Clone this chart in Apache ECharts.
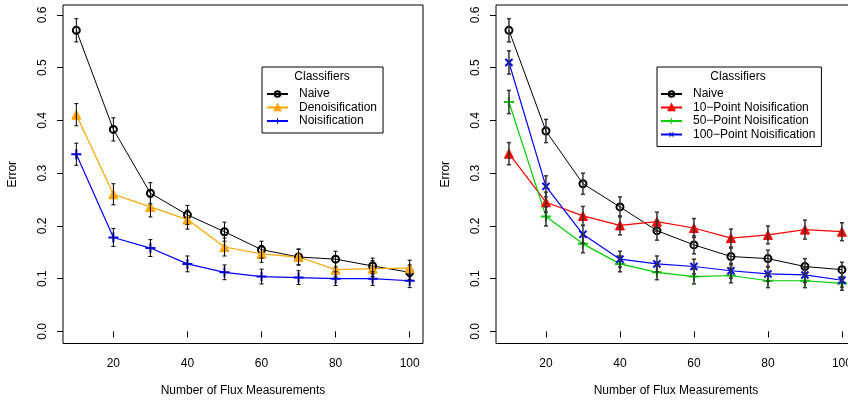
<!DOCTYPE html>
<html>
<head>
<meta charset="utf-8">
<script src="https://cdn.jsdelivr.net/npm/echarts@6/dist/echarts.min.js"></script>
<style>html,body{margin:0;padding:0;background:#fff}#c{width:848px;height:402px}</style>
</head>
<body>
<div id="c"></div>
<script>
// ---- data ----
var xs = [10, 20, 30, 40, 50, 60, 70, 80, 90, 100];
var xTicks = [20, 40, 60, 80, 100];
var yTicks = [0, 0.1, 0.2, 0.3, 0.4, 0.5, 0.6];

// left panel
var leftNaive = [0.571, 0.383, 0.262, 0.221, 0.189, 0.155, 0.141, 0.137, 0.124, 0.112];
var leftNaiveErr = [0.022, 0.022, 0.020, 0.018, 0.018, 0.016, 0.015, 0.015, 0.015, 0.014];
var leftDenoise = [0.411, 0.260, 0.236, 0.212, 0.160, 0.147, 0.141, 0.117, 0.119, 0.120];
var leftDenoiseErr = [0.021, 0.020, 0.019, 0.018, 0.017, 0.016, 0.015, 0.014, 0.015, 0.015];
var leftNoise = [0.336, 0.178, 0.158, 0.128, 0.112, 0.104, 0.102, 0.100, 0.100, 0.096];
var leftNoiseErr = [0.021, 0.017, 0.016, 0.015, 0.014, 0.014, 0.013, 0.013, 0.013, 0.013];

// right panel
var rightNaive = [0.571, 0.380, 0.280, 0.236, 0.191, 0.164, 0.142, 0.138, 0.123, 0.117];
var rightNaiveErr = [0.022, 0.022, 0.020, 0.019, 0.018, 0.017, 0.016, 0.016, 0.015, 0.014];
var right10 = [0.337, 0.245, 0.219, 0.201, 0.208, 0.196, 0.177, 0.183, 0.193, 0.189];
var right10Err = [0.021, 0.019, 0.018, 0.018, 0.018, 0.018, 0.017, 0.017, 0.018, 0.017];
var right50 = [0.435, 0.218, 0.166, 0.128, 0.112, 0.104, 0.106, 0.096, 0.096, 0.091];
var right50Err = [0.022, 0.018, 0.017, 0.015, 0.014, 0.014, 0.014, 0.013, 0.013, 0.013];
var right100 = [0.510, 0.275, 0.184, 0.137, 0.128, 0.123, 0.115, 0.109, 0.107, 0.097];
var right100Err = [0.022, 0.020, 0.017, 0.015, 0.015, 0.014, 0.014, 0.014, 0.014, 0.013];

var leftLegend = ['Naive', 'Denoisification', 'Noisification'];
var rightLegend = ['Naive ', '10\u2212Point Noisification', '50\u2212Point Noisification', '100\u2212Point Noisification'];
var legendTitle = 'Classifiers';
var xName = 'Number of Flux Measurements';
var yName = 'Error';

// ---- build ----
var FONT = 'Liberation Sans, Arial, Helvetica, sans-serif';
var PLUS = 'path://M4,0h2v4h4v2h-4v4h-2v-4h-4v-2h4z';

function pts(vals) { return xs.map(function (x, i) { return [x, vals[i]]; }); }
function errPts(vals, errs) { return xs.map(function (x, i) { return [x, vals[i], errs[i]]; }); }

function lineSeries(name, vals, idx, color, symbol, size, opts) {
  opts = opts || {};
  return {
    type: 'line', name: name, xAxisIndex: idx, yAxisIndex: idx,
    data: pts(vals), symbol: symbol, symbolSize: size,
    symbolRotate: opts.rotate || 0,
    showAllSymbol: true, animation: false, z: 3,
    lineStyle: { color: color, width: opts.lw || 1.2 },
    itemStyle: {
      color: opts.fill || color,
      borderColor: color,
      borderWidth: opts.bw != null ? opts.bw : 0
    },
    emphasis: { disabled: true }
  };
}

function errSeries(vals, errs, idx, color, width) {
  return {
    type: 'custom', xAxisIndex: idx, yAxisIndex: idx, animation: false, z: 4,
    data: errPts(vals, errs), silent: true,
    renderItem: function (params, api) {
      var x = api.value(0), y = api.value(1), e = api.value(2);
      var t = api.coord([x, y + e]);
      var b = api.coord([x, y - e]);
      var st = { stroke: color, lineWidth: width };
      var c = 2;
      return {
        type: 'group',
        children: [
          { type: 'line', shape: { x1: t[0], y1: t[1], x2: b[0], y2: b[1] }, style: st },
          { type: 'line', shape: { x1: t[0] - c, y1: t[1], x2: t[0] + c, y2: t[1] }, style: st },
          { type: 'line', shape: { x1: b[0] - c, y1: b[1], x2: b[0] + c, y2: b[1] }, style: st }
        ]
      };
    }
  };
}

function xAxis(idx, min, max) {
  return {
    type: 'value', gridIndex: idx, min: min, max: max,
    name: xName, nameLocation: 'middle', nameGap: 41,
    nameTextStyle: { fontFamily: FONT, fontSize: 12, color: '#000' },
    axisLine: { show: false },
    axisTick: { show: true, inside: false, length: 6, customValues: xTicks, lineStyle: { color: '#000' } },
    axisLabel: { show: true, customValues: xTicks, margin: 14, fontFamily: FONT, fontSize: 12, color: '#000' },
    splitLine: { show: false }
  };
}
function yAxis(idx) {
  return {
    type: 'value', gridIndex: idx, min: -0.023, max: 0.619,
    name: yName, nameLocation: 'middle', nameGap: 44,
    nameTextStyle: { fontFamily: FONT, fontSize: 12, color: '#000' },
    axisLine: { show: false },
    axisTick: { show: true, inside: false, length: 6, customValues: yTicks, lineStyle: { color: '#000' } },
    axisLabel: {
      show: true, customValues: yTicks, rotate: 90, margin: 14,
      fontFamily: FONT, fontSize: 12, color: '#000',
      formatter: function (v) { return v.toFixed(1); }
    },
    splitLine: { show: false }
  };
}

function legend(names, left, padRight, padLeft) {
  return {
    data: names, orient: 'vertical', left: left, top: 67,
    padding: [21, padRight, 6, padLeft],
    borderColor: '#000', borderWidth: 1, backgroundColor: '#fff',
    itemWidth: 21, itemHeight: 7, itemGap: 1.5,
    selectedMode: false,
    textStyle: { fontFamily: FONT, fontSize: 12, color: '#000', lineHeight: 12, padding: [0, 0, 0, 6] }
  };
}

var chart = echarts.init(document.getElementById('c'), null, { renderer: 'canvas' });
chart.setOption({
  backgroundColor: '#fff',
  animation: false,
  grid: [
    { left: 63, top: 5, width: 360, height: 338.5, show: true, borderColor: '#000', borderWidth: 1,
      backgroundColor: 'transparent', outerBoundsMode: 'none', containLabel: false },
    { left: 496, top: 5, width: 360, height: 338.5, show: true, borderColor: '#000', borderWidth: 1,
      backgroundColor: 'transparent', outerBoundsMode: 'none', containLabel: false }
  ],
  xAxis: [xAxis(0, 6.4, 103.6), xAxis(1, 6.5, 103.8)],
  yAxis: [yAxis(0), yAxis(1)],
  legend: [legend(leftLegend, 262, 6, 4), legend(rightLegend, 657, 6, 3)],
  graphic: [
    { type: 'text', style: { x: 322, y: 77, text: legendTitle, textAlign: 'center', textVerticalAlign: 'middle', fontFamily: FONT, fontSize: 12, fill: '#000' }, z: 100 },
    { type: 'text', style: { x: 738, y: 77, text: legendTitle, textAlign: 'center', textVerticalAlign: 'middle', fontFamily: FONT, fontSize: 12, fill: '#000' }, z: 100 }
  ],
  series: [
    lineSeries(leftLegend[0], leftNaive, 0, '#000000', 'circle', 7, { fill: 'rgba(0,0,0,0)', bw: 2, lw: 1 }),
    lineSeries(leftLegend[1], leftDenoise, 0, '#FFA500', 'triangle', 9, { bw: 1 }),
    lineSeries(leftLegend[2], leftNoise, 0, '#0000FF', PLUS, 10, {}),
    errSeries(leftNaive, leftNaiveErr, 0, '#000', 1),
    errSeries(leftDenoise, leftDenoiseErr, 0, '#000', 1),
    errSeries(leftNoise, leftNoiseErr, 0, '#000', 1),

    lineSeries(rightLegend[0], rightNaive, 1, '#000000', 'circle', 7, { fill: 'rgba(0,0,0,0)', bw: 2, lw: 1 }),
    lineSeries(rightLegend[1], right10, 1, '#FF0000', 'triangle', 9, { bw: 1 }),
    lineSeries(rightLegend[2], right50, 1, '#00CC00', PLUS, 10, {}),
    lineSeries(rightLegend[3], right100, 1, '#0000FF', PLUS, 10, { rotate: 45 }),
    errSeries(rightNaive, rightNaiveErr, 1, '#333', 1.5),
    errSeries(right10, right10Err, 1, '#333', 1.5),
    errSeries(right50, right50Err, 1, '#333', 1.5),
    errSeries(right100, right100Err, 1, '#333', 1.5)
  ]
});
</script>
</body>
</html>
